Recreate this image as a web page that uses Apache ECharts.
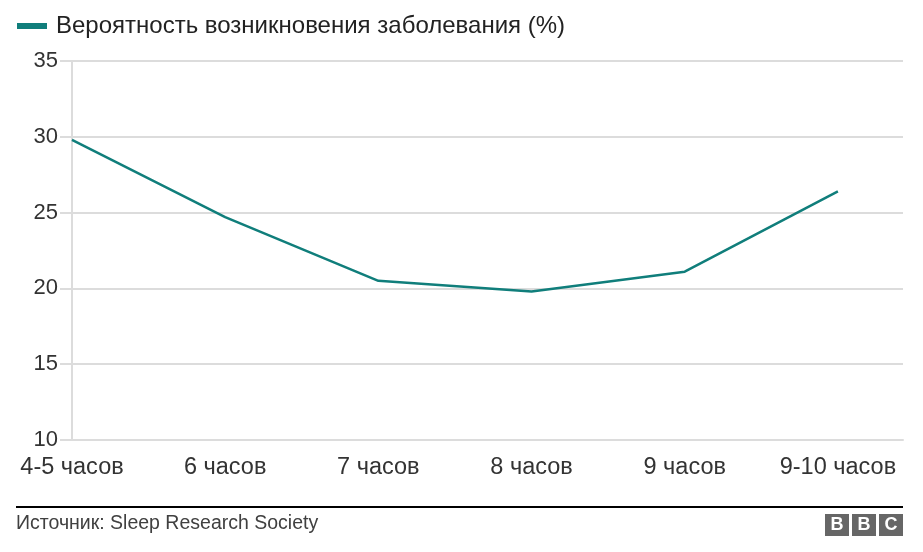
<!DOCTYPE html>
<html>
<head>
<meta charset="utf-8">
<script src="https://cdn.jsdelivr.net/npm/echarts@6/dist/echarts.min.js"></script>
<style>
  html, body { margin: 0; padding: 0; background: #fff; }
  #chart { width: 923px; height: 552px; }
</style>
</head>
<body>
<div id="chart"></div>
<script>
// sleep duration categories and risk values (%)
const hours = ['4-5 часов', '6 часов', '7 часов', '8 часов', '9 часов', '9-10 часов'];
const risk = [29.8, 24.7, 20.5, 19.8, 21.1, 26.4];
const seriesName = 'Вероятность возникновения заболевания (%)';
const yTicks = [10, 15, 20, 25, 30, 35];

const FONT = '"Liberation Sans", Arial, sans-serif';
const teal = '#107e7b';
const gridGray = '#dcdcdc';

const chart = echarts.init(document.getElementById('chart'));

// draw one BBC block letter
const bbcBlock = (x, letter) => ({
  type: 'group',
  left: x,
  top: 514,
  children: [
    { type: 'rect', shape: { x: 0, y: 0, width: 24, height: 22 }, style: { fill: '#666' } },
    {
      type: 'text', x: 12, y: 11,
      style: { text: letter, fill: '#fff', font: 'bold 18px ' + FONT, align: 'center', verticalAlign: 'middle' }
    }
  ]
});

chart.setOption({
  animation: false,
  textStyle: { fontFamily: FONT },
  legend: {
    left: 12,
    top: 9,
    icon: 'rect',
    itemWidth: 30,
    itemHeight: 6,
    itemGap: 10,
    textStyle: { fontSize: 24, color: '#222', fontFamily: FONT, padding: [0, 0, 0, 4] },
    data: [seriesName]
  },
  grid: { left: 72, right: 20, top: 61, bottom: 112, containLabel: false },
  xAxis: {
    type: 'value',
    min: 0,
    max: 5.425,
    interval: 1,
    axisLine: { show: true, lineStyle: { color: gridGray, width: 2 } },
    axisTick: { show: false },
    splitLine: { show: false },
    axisLabel: {
      margin: 16,
      fontSize: 23.5,
      color: '#333',
      fontFamily: FONT,
      formatter: (v) => hours[v] || ''
    }
  },
  yAxis: {
    type: 'value',
    min: yTicks[0],
    max: yTicks[yTicks.length - 1],
    interval: 5,
    axisLine: { show: true, lineStyle: { color: gridGray, width: 2 } },
    axisTick: { show: true, length: 12, lineStyle: { color: gridGray, width: 2 } },
    splitLine: { lineStyle: { color: gridGray, width: 2 } },
    axisLabel: { margin: 14, fontSize: 22, color: '#333', fontFamily: FONT }
  },
  series: [{
    name: seriesName,
    type: 'line',
    data: risk.map((v, i) => [i, v]),
    symbol: 'none',
    lineStyle: { color: teal, width: 2.5 },
    itemStyle: { color: teal }
  }],
  graphic: [
    { type: 'line', shape: { x1: 16, y1: 507, x2: 903, y2: 507 }, style: { stroke: '#000', lineWidth: 2 } },
    {
      type: 'text', left: 16, top: 514,
      style: { text: 'Источник: Sleep Research Society', fill: '#404040', font: '19.5px ' + FONT }
    },
    bbcBlock(825, 'B'),
    bbcBlock(852, 'B'),
    bbcBlock(879, 'C')
  ]
});
</script>
</body>
</html>
